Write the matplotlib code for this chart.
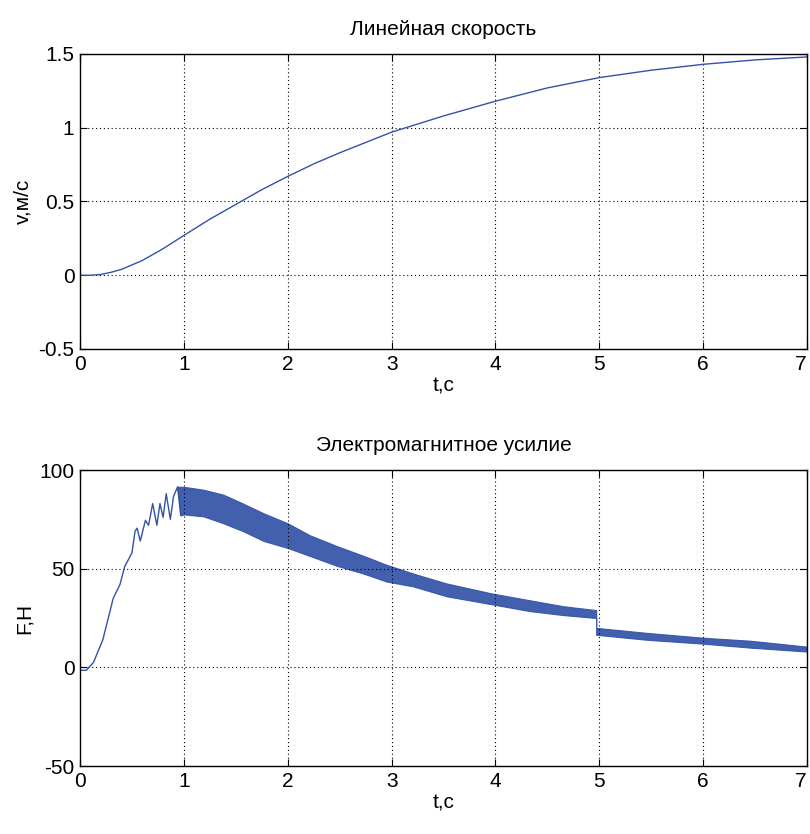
import matplotlib
matplotlib.use("Agg")
import matplotlib.pyplot as plt

plt.rcParams['font.family'] = ['Liberation Sans', 'DejaVu Sans']
plt.rcParams['axes.unicode_minus'] = False

# ---- Linear velocity ----
t_v = [0, 0.1, 0.2, 0.3, 0.4, 0.5, 0.6, 0.7, 0.8, 0.9, 1.0, 1.25, 1.5, 1.75,
       2.0, 2.25, 2.5, 2.75, 3.0, 3.5, 4.0, 4.5, 5.0, 5.5, 6.0, 6.5, 7.0]
v = [0, 0.0, 0.005, 0.02, 0.04, 0.07, 0.10, 0.14, 0.18, 0.225, 0.27,
     0.38, 0.48, 0.58, 0.67, 0.755, 0.83, 0.90, 0.97, 1.08, 1.18, 1.27, 1.34,
     1.39, 1.43, 1.46, 1.48]

# ---- Electromagnetic force: start-up part (single trace) ----
t_f = [0, 0.06, 0.13, 0.22, 0.32, 0.385, 0.43, 0.50, 0.53, 0.55, 0.58, 0.63,
       0.66, 0.70, 0.74, 0.77, 0.80, 0.83, 0.87, 0.90, 0.94, 0.97]
f = [-1.5, -1.5, 2.5, 14, 35, 42, 51, 58, 69, 70.5, 64, 74.5,
     72, 83, 72, 83, 76, 88, 75, 86.5, 91.5, 77]

# ---- Electromagnetic force: oscillation band envelope ----
t_band = [0.94, 0.97, 1.0, 1.19, 1.38, 1.57, 1.77, 2.0, 2.21, 2.47, 2.73, 2.95,
          3.21, 3.53, 3.96, 4.33, 4.65, 4.97, 4.97, 5.45, 6.0, 6.45, 7.0]
f_upper = [91.5, 91.5, 91.5, 90, 87.5, 83, 78, 73, 67, 61.5, 56.5, 52,
           47.5, 42.5, 37.5, 34, 31, 29, 20, 17.5, 15, 13.5, 10.5]
f_lower = [90, 77, 77.5, 76.5, 73, 69, 64, 60.5, 56.5, 51.5, 47.5, 43.5,
           41, 36, 32, 28.5, 26.5, 25, 16.5, 14, 12, 10, 8]

x_ticks = [0, 1, 2, 3, 4, 5, 6, 7]
v_ticks = [-0.5, 0, 0.5, 1, 1.5]
v_ticklabels = ['-0.5', '0', '0.5', '1', '1.5']
f_ticks = [-50, 0, 50, 100]

color = '#3352a8'
fs = 15
W, H = 810, 834

fig = plt.figure(figsize=(W / 100, H / 100), dpi=100)
ax1 = fig.add_axes([80 / W, (H - 349) / H, 727 / W, 295 / H])
ax2 = fig.add_axes([80 / W, (H - 766) / H, 727 / W, 296 / H])

ax1.plot(t_v, v, color=color, lw=1.0)
ax1.set_xlim(0, 7)
ax1.set_ylim(-0.5, 1.5)
ax1.set_yticks(v_ticks)
ax1.set_yticklabels(v_ticklabels)
ax1.set_title('Линейная скорость', fontsize=fs, pad=14)
ax1.set_ylabel('v,м/с', fontsize=fs, labelpad=4)
ax1.set_xlabel('t,c', fontsize=fs, labelpad=2)

ax2.plot(t_f, f, color=color, lw=1.0)
ax2.fill_between(t_band, f_lower, f_upper, facecolor=color, alpha=0.92,
                 edgecolor=color, lw=0.8)
ax2.set_xlim(0, 7)
ax2.set_ylim(-50, 100)
ax2.set_yticks(f_ticks)
ax2.set_title('Электромагнитное усилие', fontsize=fs, pad=14)
ax2.set_ylabel('F,H', fontsize=fs, labelpad=4)
ax2.set_xlabel('t,c', fontsize=fs, labelpad=2)

for ax in (ax1, ax2):
    ax.set_xticks(x_ticks)
    ax.grid(True, color='black', linestyle=(0, (1, 2.5)), linewidth=0.8)
    ax.tick_params(direction='in', length=5, width=0.8, top=True, right=True,
                   labelsize=fs, pad=4)
    for s in ax.spines.values():
        s.set_linewidth(1.0)
        s.set_color('black')
    ax.get_xticklabels()[-1].set_horizontalalignment('right')

fig.savefig('out.png', dpi=100)
